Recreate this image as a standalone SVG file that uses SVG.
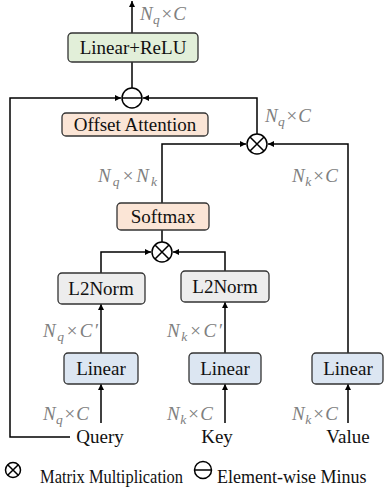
<svg xmlns="http://www.w3.org/2000/svg" width="385" height="488" viewBox="0 0 385 488">
<defs>
<marker id="ah" markerUnits="userSpaceOnUse" markerWidth="8" markerHeight="8" refX="6" refY="3" orient="auto">
<path d="M0,0 L6,3 L0,6 Z" fill="#000"/>
</marker>
</defs>
<style>
.box{stroke:#333;stroke-width:1.3}
.g{fill:#e2efd9}.p{fill:#fbe5d6}.n{fill:#ededed}.b{fill:#dce6f2}
.t{font-size:19px;fill:#111;text-anchor:middle}
.m{font-style:italic;font-size:19px;fill:#808080}
.s{font-size:13.5px}
.c{fill:none;stroke:#000;stroke-width:1.5}
.a{marker-end:url(#ah)}
.op{fill:#fff;stroke:#000;stroke-width:1.5}
</style>
<g font-family="Liberation Serif, serif">
<g id="connectors">
<path class="c a" d="M132 62 V1"/>
<path class="c" d="M132 62 V88"/>
<path class="c a" d="M70 437 H10 V98 H121"/>
<path class="c a" d="M257 134 V98 H143"/>
<path class="c a" d="M162 203 V144 H246"/>
<path class="c a" d="M348 353 V144 H268"/>
<path class="c" d="M162 230 V242"/>
<path class="c a" d="M101 273 V252 H151"/>
<path class="c a" d="M225 271 V252 H173"/>
<path class="c a" d="M101 353 V304"/>
<path class="c a" d="M225 353 V302"/>
<path class="c a" d="M101 423 V384"/>
<path class="c a" d="M225 423 V384"/>
<path class="c a" d="M348 423 V384"/>
</g>
<g id="linear_relu"><rect class="box g" x="68" y="33" width="130" height="29" rx="4"/><text class="t" x="133" y="54">Linear+ReLU</text></g>
<g id="minus"><circle class="op" cx="132" cy="98" r="10"/><path class="c" d="M122 98 H142"/></g>
<g id="offset_attention"><rect class="box p" x="62" y="113" width="146" height="23" rx="4"/><text class="t" x="135" y="131">Offset Attention</text></g>
<g id="mul1"><circle class="op" cx="257" cy="144" r="10"/><path class="c" d="M250 137 L264 151 M264 137 L250 151"/></g>
<g id="softmax"><rect class="box p" x="117" y="203" width="92" height="27" rx="4"/><text class="t" x="163" y="223">Softmax</text></g>
<g id="mul2"><circle class="op" cx="162" cy="252" r="10"/><path class="c" d="M155 245 L169 259 M169 245 L155 259"/></g>
<g id="l2norm_q"><rect class="box n" x="58" y="273" width="87" height="31" rx="4"/><text class="t" x="101" y="295">L2Norm</text></g>
<g id="l2norm_k"><rect class="box n" x="181" y="271" width="88" height="31" rx="4"/><text class="t" x="225" y="293">L2Norm</text></g>
<g id="linear_q"><rect class="box b" x="64" y="353" width="74" height="31" rx="4"/><text class="t" x="101" y="375">Linear</text></g>
<g id="linear_k"><rect class="box b" x="189" y="353" width="72" height="31" rx="4"/><text class="t" x="225" y="375">Linear</text></g>
<g id="linear_v"><rect class="box b" x="312" y="353" width="71" height="31" rx="4"/><text class="t" x="348" y="375">Linear</text></g>
<g id="query"><text class="t" x="100" y="443">Query</text></g>
<g id="key"><text class="t" x="217" y="443">Key</text></g>
<g id="value"><text class="t" x="348" y="443">Value</text></g>
<g id="labels">
<text class="m" x="140" y="20" textLength="46">N<tspan class="s" dy="4">q</tspan><tspan dy="-4">×C</tspan></text>
<text class="m" x="265" y="122" textLength="46">N<tspan class="s" dy="4">q</tspan><tspan dy="-4">×C</tspan></text>
<text class="m" x="98" y="182" textLength="59">N<tspan class="s" dy="4">q</tspan><tspan dy="-4">×N</tspan><tspan class="s" dy="4">k</tspan></text>
<text class="m" x="292" y="182" textLength="46">N<tspan class="s" dy="4">k</tspan><tspan dy="-4">×C</tspan></text>
<text class="m" x="43" y="337" textLength="55">N<tspan class="s" dy="4">q</tspan><tspan dy="-4">×C′</tspan></text>
<text class="m" x="167" y="337" textLength="55">N<tspan class="s" dy="4">k</tspan><tspan dy="-4">×C′</tspan></text>
<text class="m" x="43" y="420" textLength="46">N<tspan class="s" dy="4">q</tspan><tspan dy="-4">×C</tspan></text>
<text class="m" x="167" y="420" textLength="46">N<tspan class="s" dy="4">k</tspan><tspan dy="-4">×C</tspan></text>
<text class="m" x="292" y="420" textLength="46">N<tspan class="s" dy="4">k</tspan><tspan dy="-4">×C</tspan></text>
</g>
<g id="legend">
<circle class="op" cx="13" cy="470" r="7.5"/><path class="c" d="M7.7 464.7 L18.3 475.3 M18.3 464.7 L7.7 475.3"/>
<text x="40" y="483" font-size="18" fill="#111" textLength="143" lengthAdjust="spacingAndGlyphs">Matrix Multiplication</text>
<circle class="op" cx="203" cy="470" r="8.5"/><path class="c" d="M194.5 470 H211.5"/>
<text x="217" y="483" font-size="18" fill="#111">Element-wise Minus</text>
</g>
</g>
</svg>
